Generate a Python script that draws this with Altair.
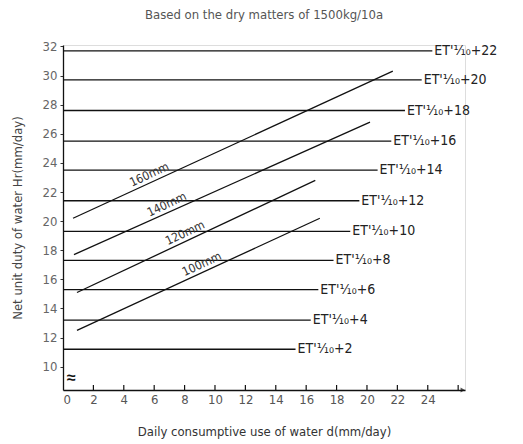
import altair as alt
import pandas as pd

# ---- data ----
level_k = [2, 4, 6, 8, 10, 12, 14, 16, 18, 20, 22]
level_hr = [11.2, 13.2, 15.3, 17.3, 19.3, 21.4, 23.5, 25.5, 27.6, 29.7, 31.7]
level_end_d = [15.3, 16.3, 16.8, 17.8, 18.9, 19.5, 20.7, 21.6, 22.5, 23.6, 24.3]

diag_names = ["160mm", "140mm", "120mm", "100mm"]
diag_d0 = [0.66, 0.72, 0.92, 0.92]
diag_hr0 = [20.2, 17.7, 15.1, 12.5]
diag_d1 = [21.7, 20.2, 16.6, 16.9]
diag_hr1 = [30.3, 26.8, 22.8, 20.2]
diag_label_d = [5.9, 7.05, 8.25, 9.35]

x_ticks = [0, 2, 4, 6, 8, 10, 12, 14, 16, 18, 20, 22, 24, 26]
y_ticks = [10, 12, 14, 16, 18, 20, 22, 24, 26, 28, 30, 32]

X_MAX = 26.45
Y_MIN, Y_MAX = 8.4, 32.1
W, H = 402, 345
FONT = "Liberation Sans Narrow, DejaVu Sans Condensed, Roboto Condensed, Liberation Sans"

levels = pd.DataFrame({
    "k": level_k, "hr": level_hr, "end": level_end_d,
    "start": [0] * len(level_k),
    "label": [f"ET'\u2152+{k}" for k in level_k],
})

rows = []
for n, a, b, c, d in zip(diag_names, diag_d0, diag_hr0, diag_d1, diag_hr1):
    rows.append({"name": n, "d": a, "hr": b, "o": 0})
    rows.append({"name": n, "d": c, "hr": d, "o": 1})
diag = pd.DataFrame(rows)

lab_rows = []
for n, a, b, c, d, lx in zip(diag_names, diag_d0, diag_hr0, diag_d1, diag_hr1, diag_label_d):
    lab_rows.append({"name": n, "d": lx, "hr": b + (lx - a) * (d - b) / (c - a)})
diag_lab = pd.DataFrame(lab_rows)

xs = alt.Scale(domain=[0, X_MAX], nice=False, zero=False)
ys = alt.Scale(domain=[Y_MIN, Y_MAX], nice=False, zero=False)

x_axis = alt.Axis(values=x_ticks, ticks=False, grid=False, domainColor="#111",
                  domainWidth=1.3, labelExpr="datum.value > 25 ? '' : datum.label",
                  labelOverlap=False,
                  labelFont=FONT, labelFontSize=13, labelColor="#555", labelPadding=3,
                  title="Daily consumptive use of water d(mm/day)", titleFont=FONT,
                  titleFontSize=13, titleFontWeight="normal", titleColor="#333",
                  titlePadding=19)
y_axis = alt.Axis(values=y_ticks, tickSize=3, tickColor="#333", grid=False,
                  labelOverlap=False,
                  domainColor="#111", domainWidth=1.3, labelFont=FONT,
                  labelFontSize=13, labelColor="#666", labelPadding=3,
                  title="Net unit duty of water  Hr(mm/day)", titleFont=FONT,
                  titleFontSize=13, titleFontWeight="normal", titleColor="#444",
                  titlePadding=18)

hlines = alt.Chart(levels).mark_rule(color="#111", strokeWidth=1.3).encode(
    x=alt.X("start:Q", scale=xs, axis=x_axis),
    x2="end:Q",
    y=alt.Y("hr:Q", scale=ys, axis=y_axis),
)

hlabels = alt.Chart(levels).mark_text(align="left", baseline="middle", dx=2,
                                      font=FONT, fontSize=14, color="#222").encode(
    x=alt.X("end:Q", scale=xs, axis=x_axis), y=alt.Y("hr:Q", scale=ys, axis=y_axis),
    text="label:N")

dlines = alt.Chart(diag).mark_line(color="#111", strokeWidth=1.3).encode(
    x=alt.X("d:Q", scale=xs, axis=x_axis), y=alt.Y("hr:Q", scale=ys, axis=y_axis),
    detail="name:N", order="o:Q")

dlabels = alt.Chart(diag_lab).mark_text(angle=335, baseline="bottom", align="center",
                                        dy=-1, font=FONT, fontSize=12, color="#333").encode(
    x=alt.X("d:Q", scale=xs, axis=x_axis), y=alt.Y("hr:Q", scale=ys, axis=y_axis),
    text="name:N")

tick_df = pd.DataFrame({"t": x_ticks[1:]})
xticks = alt.Chart(tick_df).mark_rule(color="#111", strokeWidth=1.2).encode(
    x=alt.X("t:Q", scale=xs, axis=x_axis), y=alt.value(H - 5), y2=alt.value(H))

brk = alt.Chart(pd.DataFrame({"d": [0.55], "hr": [9.2], "s": ["\u2248"]})).mark_text(
    fontSize=16, fontWeight="bold", color="#111", align="center", baseline="middle").encode(
    x=alt.X("d:Q", scale=xs, axis=x_axis), y=alt.Y("hr:Q", scale=ys, axis=y_axis),
    text="s:N")

arrow = alt.Chart(pd.DataFrame({"d": [X_MAX - 0.15], "hr": [Y_MIN]})).mark_point(
    shape="triangle-right", filled=True, size=25, color="#111").encode(
    x=alt.X("d:Q", scale=xs, axis=x_axis), y=alt.Y("hr:Q", scale=ys, axis=y_axis))

chart = alt.layer(hlines, dlines, hlabels, dlabels, xticks, brk, arrow).properties(
    width=W, height=H,
    title=alt.TitleParams("Based on the dry matters of 1500kg/10a", font=FONT,
                          fontSize=13, fontWeight="normal", color="#555",
                          anchor="middle", offset=18),
    autosize=alt.AutoSizeParams(type="none"),
    padding={"left": 63, "top": 45, "right": 523 - 63 - W, "bottom": 444 - 45 - H},
).configure_view(stroke=None).configure_axis(labelOverlap=False).configure(background="white")

chart.save("out.html", embed_options={"renderer": "svg", "actions": False})
